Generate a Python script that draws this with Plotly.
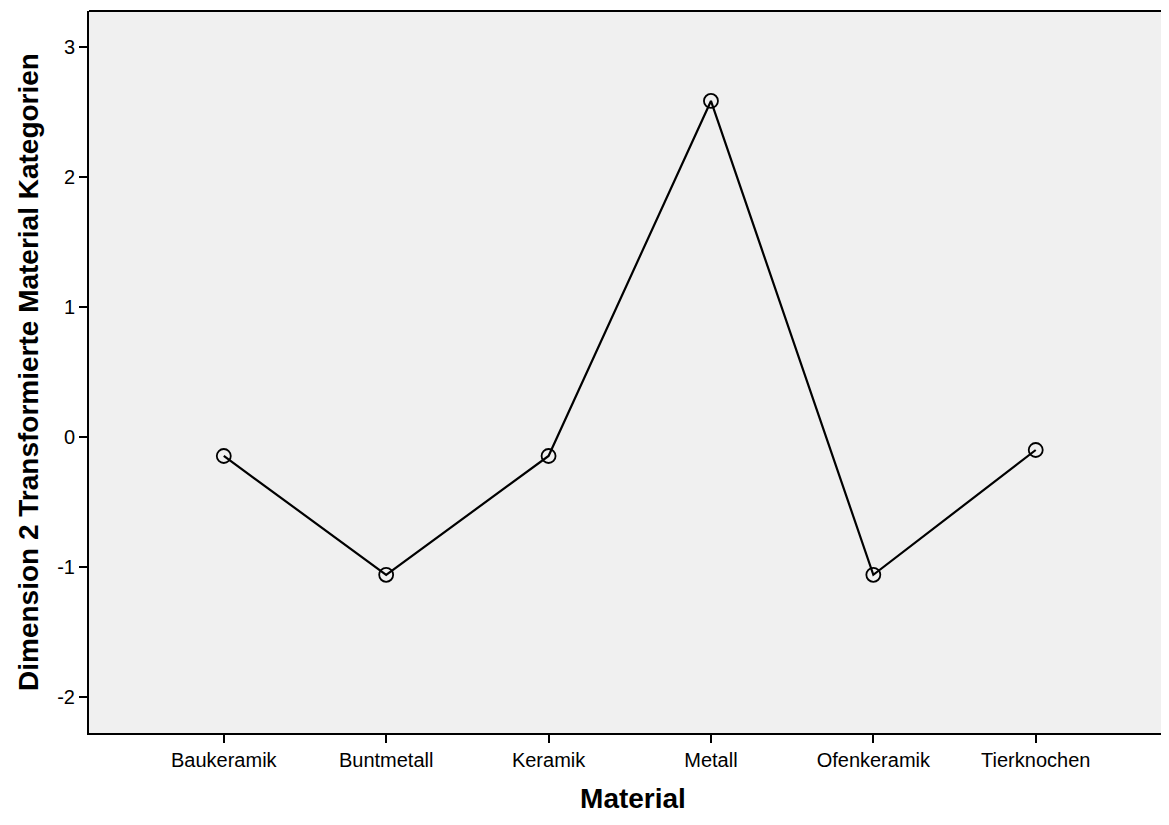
import plotly.graph_objects as go

categories = ["Baukeramik", "Buntmetall", "Keramik", "Metall", "Ofenkeramik", "Tierknochen"]
values = [-0.146, -1.06, -0.146, 2.585, -1.06, -0.10]
y_ticks = [-2, -1, 0, 1, 2, 3]

FONT = "Liberation Sans, Arial, sans-serif"

fig = go.Figure()
fig.add_trace(go.Scatter(
    x=list(range(len(categories))), y=values,
    mode="lines+markers",
    line=dict(color="black", width=2.2),
    marker=dict(symbol="circle-open", size=14, color="black", line=dict(width=1.8, color="black")),
    showlegend=False,
))

fig.update_layout(
    width=1169, height=809,
    margin=dict(l=81, r=0, t=3, b=84),
    paper_bgcolor="white",
    plot_bgcolor="#f0f0f0",
    font=dict(family=FONT, color="black"),
    xaxis=dict(
        tickmode="array", tickvals=list(range(len(categories))), ticktext=categories,
        range=[-0.83, 5.87], showgrid=False, zeroline=False,
        showline=True, linecolor="black", linewidth=2,
        ticks="outside", ticklen=8, tickwidth=2, tickcolor="black",
        tickfont=dict(size=20, family=FONT),
        title=dict(text="<b>Material</b>", font=dict(size=28, family=FONT), standoff=18),
    ),
    yaxis=dict(
        tickmode="array", tickvals=y_ticks, ticktext=[str(v) for v in y_ticks],
        range=[-2.277, 3.277], showgrid=False, zeroline=False,
        showline=True, linecolor="black", linewidth=2,
        ticks="outside", ticklen=8, tickwidth=2, tickcolor="black",
        tickfont=dict(size=20, family=FONT),
        title=dict(text="<b>Dimension 2 Transformierte Material Kategorien</b>",
                   font=dict(size=28, family=FONT), standoff=10),
    ),
    shapes=[dict(type="line", xref="paper", yref="paper", x0=0, x1=1, y0=1, y1=1,
                 line=dict(color="black", width=2))],
)

fig.write_html("out.html")
